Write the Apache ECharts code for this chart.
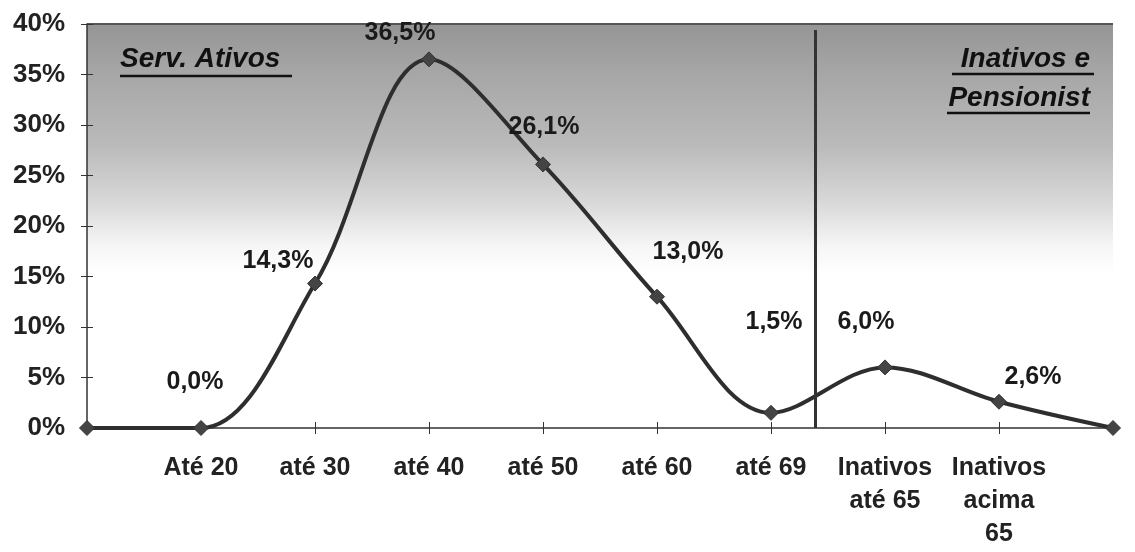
<!DOCTYPE html>
<html>
<head>
<meta charset="utf-8">
<script src="https://cdn.jsdelivr.net/npm/echarts@6/dist/echarts.min.js"></script>
<style>
  html, body { margin: 0; padding: 0; background: #fff; }
  #chart { width: 1135px; height: 552px; }
</style>
</head>
<body>
<div id="chart"></div>
<script>
// faixas etarias (primeiro e ultimo ponto sem rotulo)
var categorias = ['', 'Até 20', 'até 30', 'até 40', 'até 50', 'até 60', 'até 69', 'Inativos\naté 65', 'Inativos\nacima\n65', ''];
var percentuais = [0, 0.0, 14.3, 36.5, 26.1, 13.0, 1.5, 6.0, 2.6, 0];
var mostraRotulo = [false, true, true, true, true, true, true, true, true, false];
var ticksY = [0, 5, 10, 15, 20, 25, 30, 35, 40];
var divisao = 6.39; // separacao ativos / inativos

// deslocamento dos rotulos (feito a mao como no excel)
var desloc = [[0, 0], [-6, -46], [-37, -22], [-29, -26], [1, -37], [31, -45], [3, -91], [-19, -45], [34, -25], [0, 0]];

var myChart = echarts.init(document.getElementById('chart'));

var dados = [];
for (var i = 0; i < percentuais.length; i++) {
  dados.push({
    value: [i, percentuais[i]],
    label: {
      show: mostraRotulo[i],
      position: 'inside',
      offset: desloc[i]
    }
  });
}

var fonte = 'Arial, "Liberation Sans", sans-serif';

option = {
  animation: false,
  grid: {
    left: 87, right: 22, top: 24, bottom: 124,
    show: true,
    borderWidth: 0,
    backgroundColor: {
      type: 'linear', x: 0, y: 0, x2: 0, y2: 1,
      colorStops: [
        { offset: 0, color: '#959595' },
        { offset: 0.12, color: '#a6a6a6' },
        { offset: 0.3, color: '#bababa' },
        { offset: 0.44, color: '#d8d8d8' },
        { offset: 0.55, color: '#f6f6f6' },
        { offset: 0.62, color: '#ffffff' },
        { offset: 1, color: '#ffffff' }
      ]
    }
  },
  xAxis: [{
    type: 'value',
    min: 0, max: 9, interval: 1,
    axisLine: { show: true, lineStyle: { color: '#333', width: 1.5 } },
    axisTick: { show: true, length: 6, lineStyle: { color: '#333' } },
    splitLine: { show: false },
    axisLabel: {
      margin: 24,
      color: '#222',
      fontFamily: fonte,
      fontWeight: 'bold',
      fontSize: 25,
      lineHeight: 33,
      formatter: function (v) { return categorias[v] || ''; }
    }
  }, {
    type: 'value',
    min: 0, max: 9, interval: 1,
    position: 'bottom',
    axisLine: { show: false },
    axisTick: { show: true, inside: true, length: 6, lineStyle: { color: '#333' } },
    axisLabel: { show: false },
    splitLine: { show: false }
  }],
  yAxis: [{
    type: 'value',
    min: 0, max: 40, interval: 5,
    axisLine: { show: true, lineStyle: { color: '#333', width: 1.5 } },
    axisTick: { show: true, length: 6, lineStyle: { color: '#333' } },
    splitLine: { show: false },
    axisLabel: {
      margin: 22,
      color: '#222',
      fontFamily: fonte,
      fontWeight: 'bold',
      fontSize: 26,
      formatter: function (v) { return ticksY.indexOf(v) >= 0 ? v + '%' : ''; }
    }
  }, {
    type: 'value',
    min: 0, max: 40, interval: 5,
    position: 'left',
    axisLine: { show: false },
    axisTick: { show: true, inside: true, length: 6, lineStyle: { color: '#333' } },
    axisLabel: { show: false },
    splitLine: { show: false }
  }],
  graphic: [
    { type: 'line', shape: { x1: 87, y1: 24, x2: 1113, y2: 24 }, style: { stroke: '#555', lineWidth: 2 } },
    { type: 'text', left: 120, top: 45, style: { text: 'Serv. Ativos', font: 'italic bold 28px Arial', fill: '#111' } },
    { type: 'line', shape: { x1: 120, y1: 76, x2: 292, y2: 76 }, style: { stroke: '#111', lineWidth: 2.5 } },
    { type: 'text', right: 45, top: 45, style: { text: 'Inativos e', font: 'italic bold 28px Arial', fill: '#111' } },
    { type: 'line', shape: { x1: 952, y1: 74, x2: 1094, y2: 74 }, style: { stroke: '#111', lineWidth: 2.5 } },
    { type: 'text', right: 45, top: 84, style: { text: 'Pensionist', font: 'italic bold 28px Arial', fill: '#111' } },
    { type: 'line', shape: { x1: 947, y1: 113, x2: 1090, y2: 113 }, style: { stroke: '#111', lineWidth: 2.5 } }
  ],
  series: [{
    type: 'line',
    data: dados,
    smooth: 0.35,
    symbol: 'diamond',
    symbolSize: 15,
    lineStyle: { color: '#2e2e2e', width: 4 },
    itemStyle: { color: '#444', borderColor: '#333', borderWidth: 1 },
    label: {
      color: '#1a1a1a',
      fontFamily: fonte,
      fontWeight: 'bold',
      fontSize: 25,
      formatter: function (p) { return p.value[1].toFixed(1).replace('.', ',') + '%'; }
    },
    markLine: {
      silent: true,
      symbol: 'none',
      label: { show: false },
      lineStyle: { color: '#333', width: 3, type: 'solid' },
      data: [[{ coord: [divisao, 0] }, { coord: [divisao, 39.4] }]]
    },
    z: 3
  }]
};

myChart.setOption(option);
</script>
</body>
</html>
